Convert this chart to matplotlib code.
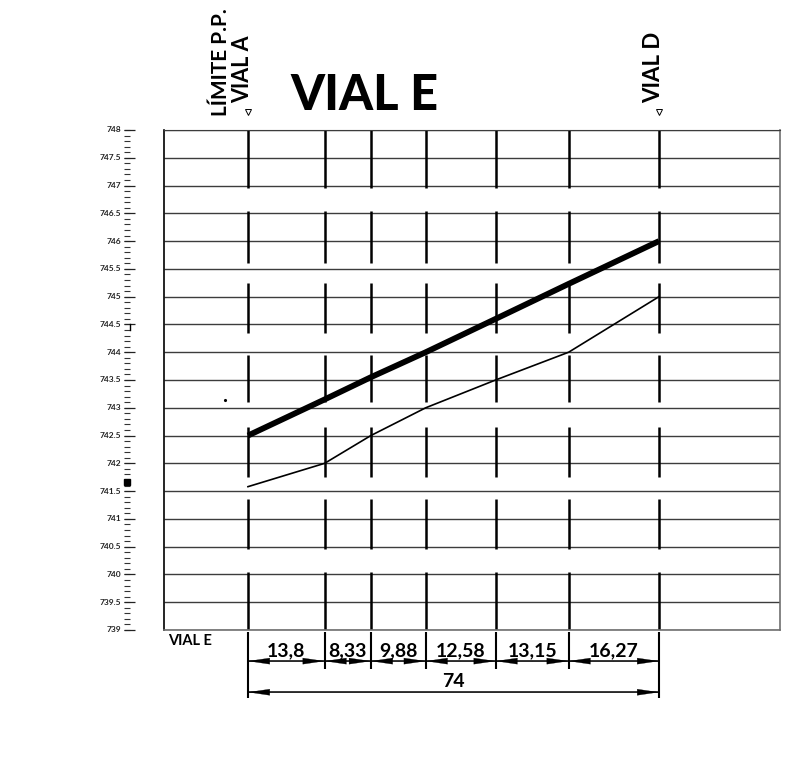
import numpy as np
import matplotlib
matplotlib.use("Agg")
import matplotlib.pyplot as plt

plt.rcParams['font.family'] = ['Lato', 'DejaVu Sans']

# distances between stations
tramos = [13.8, 8.33, 9.88, 12.58, 13.15, 16.27]
tramo_labels = ["13,8", "8,33", "9,88", "12,58", "13,15", "16,27"]
total_label = "74"
stations = np.concatenate(([0], np.cumsum(tramos)))

# elevations at each station
rasante = [742.5, 743.15, 743.55, 744.0, 744.6, 745.23, 746.0]
terreno = [741.58, 742.0, 742.5, 743.0, 743.5, 744.0, 745.0]

y_major = np.arange(739, 748.5, 0.5)
y_minor = np.arange(739, 748.05, 0.1)
y_labels = ["%g" % v for v in y_major]

# the station lines are broken in pieces
seg_top = [748, 746.54, 745.25, 743.95, 742.65, 741.35, 740.05]
seg_bottom = [746.95, 745.61, 744.35, 743.1, 741.75, 740.45, 739]

fig = plt.figure(figsize=(7.96, 7.65), dpi=100)
ax = fig.add_axes([164 / 796, 1 - 630 / 765, 616 / 796, 500 / 765])
ax.set_xlim(-15.12, 95.8)
ax.set_ylim(739, 748)

ax.hlines(y_major, -15.12, 95.8, color="#3c3c3c", lw=1.0, zorder=1)

for top, bottom in zip(seg_top, seg_bottom):
    ax.vlines(stations, bottom, top, color="black", lw=1.8, zorder=2)

ax.plot(stations, rasante, color="black", lw=4.2, solid_capstyle="butt", zorder=3)
ax.plot(stations, terreno, color="black", lw=1.2, zorder=3)

# stray marks in the drawing
ax.plot([-4.1], [743.14], ".", color="black", ms=2.5, clip_on=False)

# ruler on the left
ax.spines["left"].set_color("black")
ax.spines["left"].set_linewidth(1.2)
ax.spines["top"].set_color("#3c3c3c")
ax.spines["right"].set_color("#707070")
ax.spines["right"].set_linewidth(1.2)
ax.spines["bottom"].set_color("#707070")
ax.spines["bottom"].set_linewidth(1.2)
ax.set_xticks([])
ax.set_yticks(y_major)
ax.set_yticklabels(y_labels, fontsize=6, fontweight="bold", color="#222222", va="center")
ax.tick_params(axis="y", length=0, pad=31)
tr = ax.get_yaxis_transform()
ax.hlines(y_minor, (124 - 164) / 616, (130 - 164) / 616, transform=tr, color="#333333", lw=0.8, clip_on=False)
ax.hlines(y_major, (124 - 164) / 616, (135 - 164) / 616, transform=tr, color="#222222", lw=0.9, clip_on=False)
ax.plot([(127 - 164) / 616], [741.66], "s", color="black", ms=4, transform=tr, clip_on=False)
ax.plot([(130 - 164) / 616] * 2, [744.4, 744.5], color="black", lw=1, transform=tr, clip_on=False)

# station headings
ax.plot(stations[[0, -1]], [748.32, 748.32], "v", mfc="white", mec="black", ms=5, mew=0.7, clip_on=False)
fig.text(221 / 796, 1 - 116 / 765, "LÍMITE P.P.", rotation=90, ha="center", va="bottom", fontsize=15, fontweight="bold")
fig.text(243 / 796, 1 - 103 / 765, "VIAL A", rotation=90, ha="center", va="bottom", fontsize=15.5, fontweight="bold")
fig.text(654 / 796, 1 - 103 / 765, "VIAL D", rotation=90, ha="center", va="bottom", fontsize=16, fontweight="bold")
fig.text(364 / 796, 1 - 110 / 765, "VIAL E", ha="center", va="baseline", fontsize=35, fontweight=900)
fig.text(168 / 796, 1 - 645 / 765, "VIAL E", ha="left", va="baseline", fontsize=10.5, fontweight="bold")

# dimensions under the profile
ext_short = 738.3
ext_long = 737.77
dim_y = 738.44
total_y = 737.88
ax.vlines(stations[1:-1], ext_short, 738.97, color="black", lw=1.5, clip_on=False)
ax.vlines(stations[[0, -1]], ext_long, 738.97, color="black", lw=1.5, clip_on=False)

arrow = dict(arrowstyle="-|>,head_length=1.5,head_width=0.22", color="black", lw=0.2,
             shrinkA=0, shrinkB=0, mutation_scale=10)


def dimension(x0, x1, y):
    ax.plot([x0, x1], [y, y], color="black", lw=1.1, clip_on=False)
    ax.annotate("", xy=(x0, y), xytext=((x0 + x1) / 2, y), arrowprops=arrow, annotation_clip=False)
    ax.annotate("", xy=(x1, y), xytext=((x0 + x1) / 2, y), arrowprops=arrow, annotation_clip=False)


for i, label in enumerate(tramo_labels):
    dimension(stations[i], stations[i + 1], dim_y)
    ax.text((stations[i] + stations[i + 1]) / 2, 738.62, label, ha="center", va="center", fontsize=14, fontweight="bold", clip_on=False)
dimension(stations[0], stations[-1], total_y)
ax.text(stations[-1] / 2, 738.08, total_label, ha="center", va="center", fontsize=14, fontweight="bold", clip_on=False)

fig.savefig("out.png", dpi=100)
